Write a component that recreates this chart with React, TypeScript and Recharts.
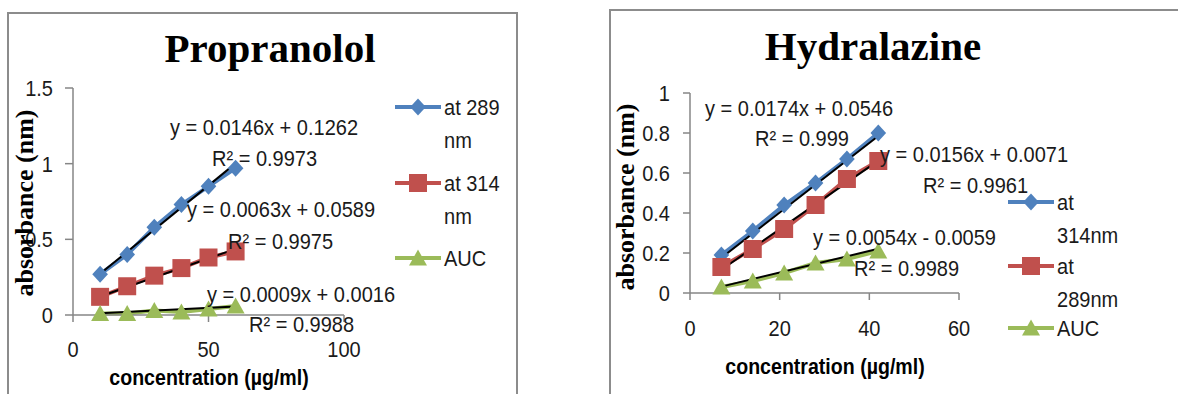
import React from 'react';
import { ComposedChart, Line, XAxis, YAxis } from 'recharts';

// ---------- Propranolol ----------
const propConc = [10, 20, 30, 40, 50, 60];
const prop289 = [0.27, 0.40, 0.58, 0.73, 0.85, 0.97];
const prop314 = [0.12, 0.19, 0.26, 0.31, 0.38, 0.42];
const propAUC = [0.01, 0.01, 0.03, 0.02, 0.04, 0.06];
const propTrendConc = [10, 60];
const propTrend289 = [0.272, 1.002];
const propTrend314 = [0.122, 0.437];
const propTrendAUC = [0.011, 0.056];
const propXTicks = [0, 50, 100];
const propYTicks = [0, 0.5, 1, 1.5];

// ---------- Hydralazine ----------
const hydConc = [7, 14, 21, 28, 35, 42];
const hyd314 = [0.19, 0.31, 0.44, 0.55, 0.67, 0.80];
const hyd289 = [0.13, 0.22, 0.32, 0.44, 0.57, 0.66];
const hydAUC = [0.03, 0.06, 0.10, 0.15, 0.17, 0.21];
const hydTrendConc = [7, 42];
const hydTrend314 = [0.176, 0.785];
const hydTrend289 = [0.116, 0.662];
const hydTrendAUC = [0.032, 0.221];
const hydXTicks = [0, 20, 40, 60];
const hydYTicks = [0, 0.2, 0.4, 0.6, 0.8, 1];

const BLUE = '#4F81BD';
const RED = '#C0504D';
const GREEN = '#9BBB59';
const AXIS = '#868686';
const INK = '#1a1a1a';
const SANS = "'Liberation Sans', Arial, sans-serif";
const SERIF = "'Liberation Serif', 'Times New Roman', serif";
const FS = 22.5;
const SX = 0.89;

const pts = (xs: number[], ys: number[]) => xs.map((x, i) => ({ x, y: ys[i] }));

const diamondPath = (cx: number, cy: number) => {
  const r = 8.5;
  return `M${cx},${cy - r}L${cx + r * 0.92},${cy}L${cx},${cy + r}L${cx - r * 0.92},${cy}Z`;
};
const squarePath = (cx: number, cy: number) => {
  const h = 9;
  return `M${cx - h},${cy - h}L${cx + h},${cy - h}L${cx + h},${cy + h}L${cx - h},${cy + h}Z`;
};
const trianglePath = (cx: number, cy: number) => {
  const w = 9;
  return `M${cx},${cy - 8.5}L${cx + w},${cy + 7.5}L${cx - w},${cy + 7.5}Z`;
};

const makeDot = (kind: string, color: string) => (props: any) => {
  const { cx, cy, index } = props;
  if (cx == null || cy == null) return <g key={`n-${kind}-${index}`} />;
  const d = kind === 'diamond' ? diamondPath(cx, cy) : kind === 'square' ? squarePath(cx, cy) : trianglePath(cx, cy);
  return <path key={`${kind}-${index}`} d={d} fill={color} />;
};

// Narrowed sans text (Calibri-like proportions)
const SText = ({ x, y, anchor = 'start', size = FS, weight = 'normal', fill = INK, children }: any) => (
  <g transform={`translate(${x},${y}) scale(${SX},1)`}>
    <text x={0} y={0} textAnchor={anchor} fontSize={size} fontWeight={weight} fontFamily={SANS} fill={fill}>{children}</text>
  </g>
);

const XTick = (props: any) => {
  const { x, y, payload } = props;
  return <SText x={x} y={y + 18} anchor="middle">{String(payload.value)}</SText>;
};
const YTick = (props: any) => {
  const { x, y, payload } = props;
  return <SText x={x} y={y + 8} anchor="end">{String(payload.value)}</SText>;
};

const LegendItem = ({ x, y, kind, color, lines }: any) => {
  const mx = x + 23;
  const d = kind === 'diamond' ? diamondPath(mx, y) : kind === 'square' ? squarePath(mx, y) : trianglePath(mx, y);
  return (
    <g>
      <line x1={x} x2={x + 46} y1={y} y2={y} stroke={color} strokeWidth={4} />
      <path d={d} fill={color} />
      {lines.map((t: string, i: number) => (
        <SText key={i} x={x + 49} y={y + 8 + i * 33}>{t}</SText>
      ))}
    </g>
  );
};

export default function App() {
  return (
    <div style={{ position: 'fixed', left: 0, top: 0, width: 1178, height: 394, background: '#fff', overflow: 'hidden' }}>
      {/* Propranolol chart */}
      <div style={{ position: 'absolute', left: 0, top: 0 }}>
        <ComposedChart width={517} height={394} margin={{ top: 88, right: 173, bottom: 49, left: 13 }}>
          <XAxis
            dataKey="x"
            type="number"
            domain={[0, 100]}
            ticks={propXTicks}
            axisLine={{ stroke: AXIS, strokeWidth: 1.5 }}
            tickLine={{ stroke: AXIS, strokeWidth: 1.5 }}
            tickSize={7}
            tickMargin={17}
            tick={<XTick />}
            height={30}
          />
          <YAxis
            type="number"
            domain={[0, 1.5]}
            ticks={propYTicks}
            axisLine={{ stroke: AXIS, strokeWidth: 1.5 }}
            tickLine={{ stroke: AXIS, strokeWidth: 1.5 }}
            tickSize={8}
            tickMargin={12}
            tick={<YTick />}
            width={60}
          />
          <Line data={pts(propConc, prop289)} dataKey="y" stroke={BLUE} strokeWidth={4} dot={makeDot('diamond', BLUE)} isAnimationActive={false} />
          <Line data={pts(propConc, prop314)} dataKey="y" stroke={RED} strokeWidth={4} dot={makeDot('square', RED)} isAnimationActive={false} />
          <Line data={pts(propConc, propAUC)} dataKey="y" stroke={GREEN} strokeWidth={4} dot={makeDot('triangle', GREEN)} isAnimationActive={false} />
          <Line data={pts(propTrendConc, propTrend289)} dataKey="y" stroke="#000" strokeWidth={2} dot={false} isAnimationActive={false} />
          <Line data={pts(propTrendConc, propTrend314)} dataKey="y" stroke="#000" strokeWidth={2} dot={false} isAnimationActive={false} />
          <Line data={pts(propTrendConc, propTrendAUC)} dataKey="y" stroke="#000" strokeWidth={2} dot={false} isAnimationActive={false} />
        </ComposedChart>
      </div>

      {/* Hydralazine chart */}
      <div style={{ position: 'absolute', left: 600, top: 0 }}>
        <ComposedChart width={578} height={394} margin={{ top: 93, right: 219, bottom: 71, left: 30 }}>
          <XAxis
            dataKey="x"
            type="number"
            domain={[0, 60]}
            ticks={hydXTicks}
            axisLine={{ stroke: AXIS, strokeWidth: 1.5 }}
            tickLine={{ stroke: AXIS, strokeWidth: 1.5 }}
            tickSize={7}
            tickMargin={18}
            tick={<XTick />}
            height={30}
          />
          <YAxis
            type="number"
            domain={[0, 1]}
            ticks={hydYTicks}
            axisLine={{ stroke: AXIS, strokeWidth: 1.5 }}
            tickLine={{ stroke: AXIS, strokeWidth: 1.5 }}
            tickSize={7}
            tickMargin={13}
            tick={<YTick />}
            width={60}
          />
          <Line data={pts(hydConc, hyd314)} dataKey="y" stroke={BLUE} strokeWidth={4} dot={makeDot('diamond', BLUE)} isAnimationActive={false} />
          <Line data={pts(hydConc, hyd289)} dataKey="y" stroke={RED} strokeWidth={4} dot={makeDot('square', RED)} isAnimationActive={false} />
          <Line data={pts(hydConc, hydAUC)} dataKey="y" stroke={GREEN} strokeWidth={4} dot={makeDot('triangle', GREEN)} isAnimationActive={false} />
          <Line data={pts(hydTrendConc, hydTrend314)} dataKey="y" stroke="#000" strokeWidth={2} dot={false} isAnimationActive={false} />
          <Line data={pts(hydTrendConc, hydTrend289)} dataKey="y" stroke="#000" strokeWidth={2} dot={false} isAnimationActive={false} />
          <Line data={pts(hydTrendConc, hydTrendAUC)} dataKey="y" stroke="#000" strokeWidth={2} dot={false} isAnimationActive={false} />
        </ComposedChart>
      </div>

      {/* Overlay: frames, titles, axis titles, legends, equations */}
      <svg width={1178} height={394} style={{ position: 'absolute', left: 0, top: 0, pointerEvents: 'none' }}>
        <rect x={8} y={13} width={509} height={400} fill="none" stroke="#8c8c8c" strokeWidth={2} />
        <rect x={610} y={10} width={600} height={400} fill="none" stroke="#8c8c8c" strokeWidth={2} />

        <text x={270} y={62} textAnchor="middle" fontSize={41} fontWeight="bold" fontFamily={SERIF} fill="#000">Propranolol</text>
        <text x={873} y={60} textAnchor="middle" fontSize={41} fontWeight="bold" fontFamily={SERIF} fill="#000">Hydralazine</text>

        <text transform="translate(33,203) rotate(-90)" textAnchor="middle" fontSize={26} fontWeight="bold" fontFamily={SERIF} fill="#000">absorbance (nm)</text>
        <text transform="translate(634,197) rotate(-90)" textAnchor="middle" fontSize={26} fontWeight="bold" fontFamily={SERIF} fill="#000">absorbance (nm)</text>

        <SText x={209} y={385} anchor="middle" size={22} weight="bold" fill="#000">concentration (µg/ml)</SText>
        <SText x={825} y={374} anchor="middle" size={22} weight="bold" fill="#000">concentration (µg/ml)</SText>

        <LegendItem x={395} y={107} kind="diamond" color={BLUE} lines={['at 289', 'nm']} />
        <LegendItem x={395} y={183} kind="square" color={RED} lines={['at 314', 'nm']} />
        <LegendItem x={395} y={258} kind="triangle" color={GREEN} lines={['AUC']} />

        <LegendItem x={1008} y={202} kind="diamond" color={BLUE} lines={['at', '314nm']} />
        <LegendItem x={1008} y={266} kind="square" color={RED} lines={['at', '289nm']} />
        <LegendItem x={1008} y={328} kind="triangle" color={GREEN} lines={['AUC']} />

        <SText x={170} y={135}>y = 0.0146x + 0.1262</SText>
        <SText x={212} y={166}>R² = 0.9973</SText>
        <SText x={187} y={217}>y = 0.0063x + 0.0589</SText>
        <SText x={228} y={249}>R² = 0.9975</SText>
        <SText x={207} y={302}>y = 0.0009x + 0.0016</SText>
        <SText x={249} y={332}>R² = 0.9988</SText>

        <SText x={705} y={116}>y = 0.0174x + 0.0546</SText>
        <SText x={755} y={146}>R² = 0.999</SText>
        <SText x={880} y={162}>y = 0.0156x + 0.0071</SText>
        <SText x={923} y={193}>R² = 0.9961</SText>
        <SText x={813} y={245}>y = 0.0054x - 0.0059</SText>
        <SText x={854} y={276}>R² = 0.9989</SText>
      </svg>
    </div>
  );
}
